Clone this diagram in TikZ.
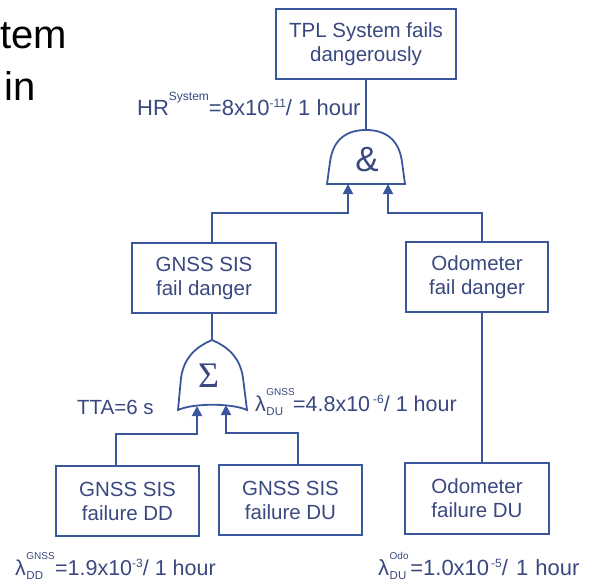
\documentclass[tikz,border=0pt]{standalone}
\usepackage{fontspec}
\setmainfont{Liberation Sans}
\newfontfamily\serifsym{Liberation Serif}
\usetikzlibrary{arrows.meta}
\definecolor{linec}{RGB}{58,86,156}
\definecolor{textc}{RGB}{58,72,128}
\newcommand{\fsz}[1]{\fontsize{#1}{#1}\selectfont}
\newcommand{\boxfont}{\fontsize{20.5}{24}\selectfont}
% raised small text: raise, size, text
\newcommand{\sups}[3]{\raisebox{#1}{\fsz{#2}#3}}
% lambda with stacked super- and subscript
\newcommand{\lam}[2]{λ\kern0.5pt\rlap{\raisebox{16pt}{\fsz{10}#1}}\raisebox{-4pt}{\fsz{11.5}#2}}
\begin{document}
\begin{tikzpicture}[x=1pt,y=-1pt,
  box/.style={draw=linec, line width=1.8pt, text=textc, align=center,
    font=\boxfont, inner sep=0pt, minimum height=70pt},
  wire/.style={draw=linec, line width=1.8pt},
  inarrow/.style={wire, -{Triangle[length=10pt,width=10pt]}},
  lbl/.style={text=textc, font=\fsz{21.5}, inner sep=0pt, anchor=base west},
  frag/.style={text=black, font=\fsz{40}, inner sep=0pt, anchor=base west}]
\useasboundingbox (0,0) rectangle (593,581);

% fragments of a heading
\node[frag] (frag1) at (0,48) {tem};
\node[frag] (frag2) at (4,100) {in};

% event boxes
\node[box, minimum width=180pt] (top) at (366,44) {TPL System fails\\dangerously};
\node[box, minimum width=144pt] (gfd) at (204,278) {GNSS SIS\\fail danger};
\node[box, minimum width=142pt] (ofd) at (477,277) {Odometer\\fail danger};
\node[box, minimum width=143pt] (gdd) at (127.5,501) {GNSS SIS\\failure DD};
\node[box, minimum width=143pt] (gdu) at (290.5,500) {GNSS SIS\\failure DU};
\node[box, minimum width=144pt, minimum height=71pt] (odu) at (477,498.5) {Odometer\\failure DU};

% AND gate
\coordinate (andT) at (366,130);
\coordinate (andL) at (348,184);
\coordinate (andR) at (388,184);
\draw[wire] (327,184) -- (330,162) .. controls (333,139) and (347,130) .. (366,130)
  .. controls (385,130) and (399,139) .. (402,162) -- (405,184) -- cycle;
\node[text=textc, font=\fsz{35}] (andsym) at (367,160) {\&};

% OR gate
\coordinate (orT) at (212,340);
\coordinate (orL) at (197,406);
\coordinate (orR) at (226,405);
\draw[wire] (178,410) -- (181,378) .. controls (184,356) and (198,346) .. (212,340)
  .. controls (226,346) and (240,356) .. (243,378) -- (247,410)
  .. controls (232,403) and (193,403) .. (178,410) -- cycle;
\node[text=textc, font=\serifsym\fsz{36}] (sig) at (208.5,376) {Σ};

% connectors
\coordinate (jL) at (348,213);
\coordinate (jR) at (388,213);
\coordinate (xO) at (482,0);
\coordinate (dL) at (197,434);
\coordinate (dR) at (226,433);
\coordinate (xDD) at (116,0);
\coordinate (xDU) at (298,0);
\draw[wire] (top.south) -- (andT);
\draw[inarrow] (gfd.north -| orT) |- (jL) -- (andL);
\draw[inarrow] (ofd.north -| xO) |- (jR) -- (andR);
\draw[wire] (gfd.south -| orT) -- (orT);
\draw[inarrow] (gdd.north -| xDD) |- (dL) -- (orL);
\draw[inarrow] (gdu.north -| xDU) |- (dR) -- (orR);
\draw[wire] (ofd.south -| xO) -- (odu.north -| xO);

% rates
\node[lbl, font=\fsz{22}] (hr) at (137,115) {HR\sups{15pt}{12}{System}=8x10\sups{8pt}{12}{-11}/ 1 hour};
\node[lbl, font=\fsz{20.5}] (tta) at (77,414) {TTA=6 s};
\node[lbl] (lgdu) at (255,411) {\lam{GNSS}{DU}\kern10pt=4.8x10\kern3pt\sups{8pt}{12}{-6}/ 1 hour};
\node[lbl] (lgdd) at (15,575) {\lam{GNSS}{DD}\kern12pt=1.9x10\sups{8pt}{12}{-3}/ 1 hour};
\node[lbl, font=\fsz{22}] (lodu) at (378,575) {\lam{Odo}{DU}\kern4pt=1.0x10\kern2pt\sups{8pt}{12}{-5}/\ \kern2pt 1\ \kern1pt hour};
\end{tikzpicture}
\end{document}
